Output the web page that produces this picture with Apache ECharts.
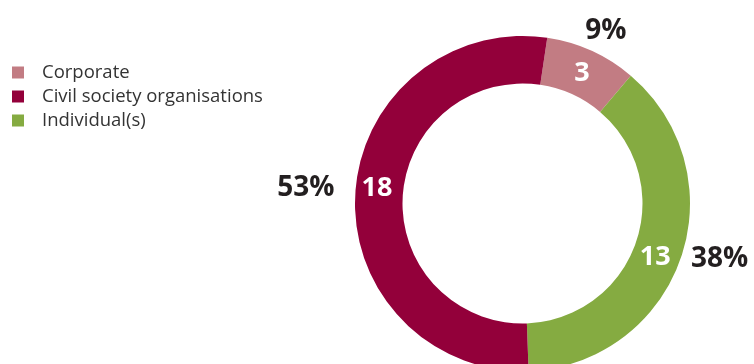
<!DOCTYPE html>
<html><head><meta charset="utf-8">
<script src="https://cdn.jsdelivr.net/npm/echarts@6/dist/echarts.min.js"></script>
<style>html,body{margin:0;padding:0;background:#fff}#c{width:754px;height:364px}</style>
</head><body><div id="c"></div>
<script>
const categories = ['Corporate', 'Civil society organisations', 'Individual(s)'];
const counts = [3, 18, 13];
const percentLabels = ['9%', '53%', '38%'];
const colors = ['#c27c83', '#93003a', '#85ab41'];
// clockwise drawing order of the ring, starting near the top
const ringOrder = [0, 2, 1];

const innerOffsets = [[-1, 3], [1, -7], [-6, 6]];
const outerOffsets = [[2, 7], [-20, -4], [11, -9]];

const chart = echarts.init(document.getElementById('c'), null, {renderer: 'canvas'});
const FONT = '"Open Sans", "Noto Sans", sans-serif';
const center = [522.5, 203.5];
const startAngle = 81.5;

chart.setOption({
  animation: false,
  legend: {
    orient: 'vertical', left: 7, top: 58,
    itemWidth: 12, itemHeight: 12, itemGap: 5,
    icon: 'rect',
    data: categories,
    textStyle: {fontFamily: FONT, fontSize: 18.5, color: '#333', padding: [0, 0, 0, 13]}
  },
  series: [
    {
      type: 'pie', center: center, radius: [120, 167.5], startAngle: startAngle,
      clockwise: true, avoidLabelOverlap: false,
      label: {position: 'inside', formatter: '{c}', color: '#fff', fontFamily: FONT, fontWeight: 'bold', fontSize: 27},
      labelLine: {show: false},
      emphasis: {disabled: true},
      data: ringOrder.map(i => ({name: categories[i], value: counts[i],
        itemStyle: {color: colors[i]}, label: {offset: innerOffsets[i]}}))
    },
    {
      type: 'pie', center: center, radius: [184, 204], startAngle: startAngle,
      clockwise: true, avoidLabelOverlap: false, silent: true,
      label: {position: 'inside', color: '#231f20', fontFamily: FONT, fontWeight: 'bold', fontSize: 28},
      labelLine: {show: false},
      emphasis: {disabled: true},
      data: ringOrder.map(i => ({name: categories[i] + ' %', value: counts[i],
        itemStyle: {color: 'rgba(0,0,0,0)'},
        label: {formatter: percentLabels[i], offset: outerOffsets[i]}}))
    }
  ]
});
</script></body></html>
